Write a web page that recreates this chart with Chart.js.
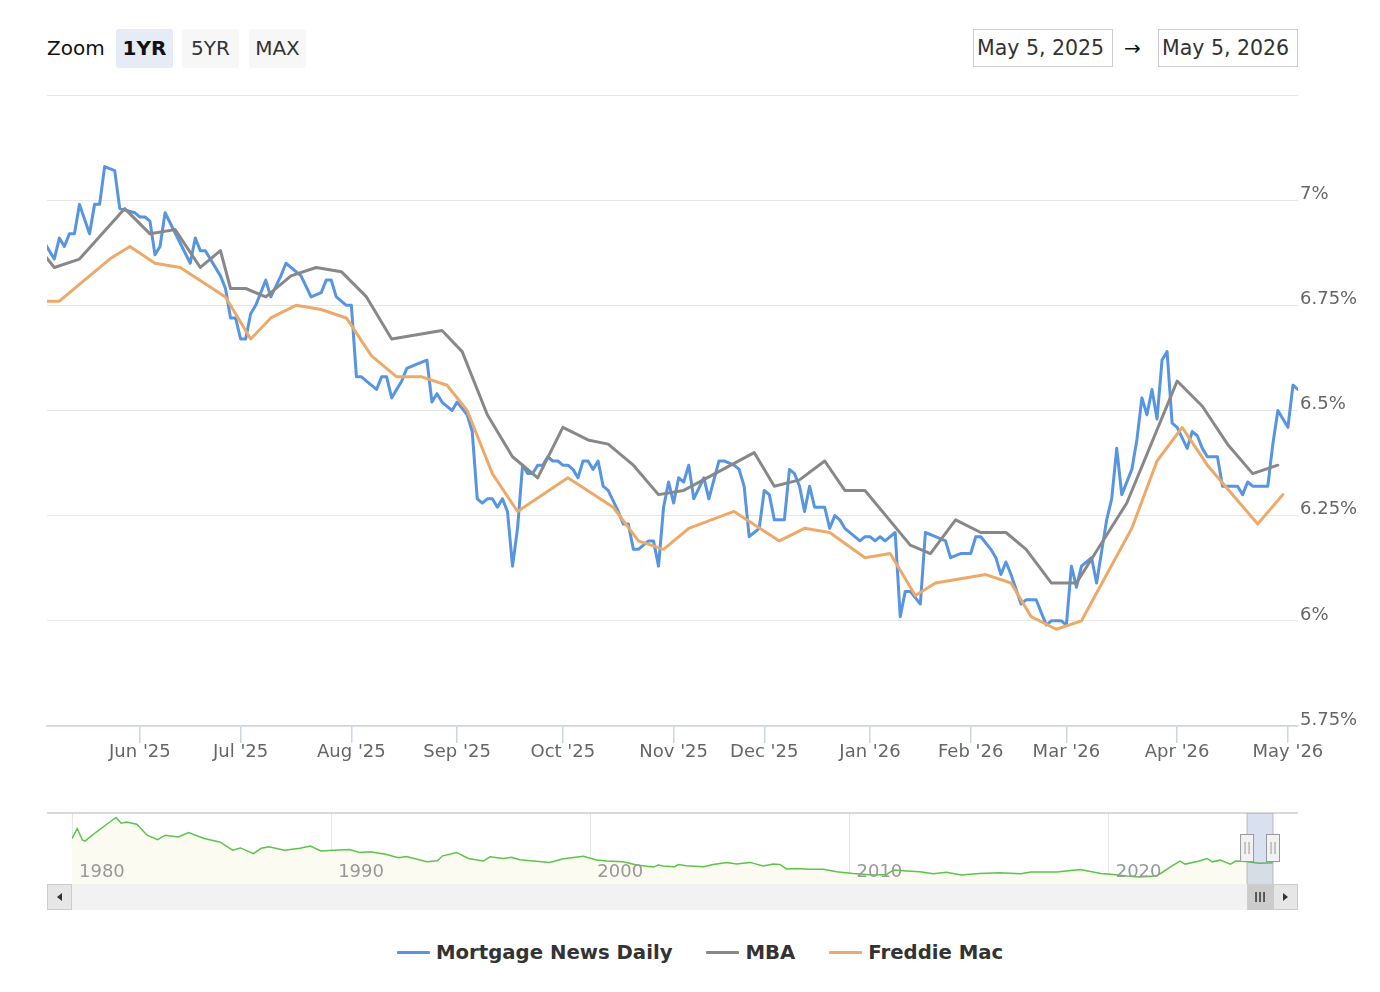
<!DOCTYPE html>
<html>
<head>
<meta charset="utf-8">
<title>Mortgage Rates</title>
<script src="https://cdn.jsdelivr.net/npm/chart.js@4.4.1/dist/chart.umd.min.js"></script>
<style>
  body { margin: 0; background: #fff; font-family: "DejaVu Sans", sans-serif; }
  #page { position: relative; width: 1380px; height: 992px; overflow: hidden; }
  .zoom-label { position: absolute; left: 47px; top: 29px; height: 39px; line-height: 39px; font-size: 20px; color: #111; }
  .zoom-btn { position: absolute; top: 29px; width: 57px; height: 39px; line-height: 39px; text-align: center;
              font-size: 20px; color: #333; background: #f7f7f7; border-radius: 3px; }
  .zoom-btn.active { background: #e6ebf5; font-weight: bold; color: #111; }
  .date-box { position: absolute; top: 29px; width: 135px; height: 36px; border: 1.5px solid #ccc;
              font-size: 20.5px; line-height: 36px; color: #333; padding-left: 3px; }
  .range-arrow { position: absolute; left: 1124px; top: 29px; height: 39px; line-height: 39px; font-size: 20px; color: #111; }
  #mainChart { position: absolute; left: 0; top: 0; }
  #navChart { position: absolute; left: 47px; top: 806px; }
  #legend { position: absolute; left: 397px; top: 936px; height: 32px; display: flex; align-items: center;
            gap: 34px; font-weight: bold; font-size: 19.7px; color: #333; }
  .legend-item { display: flex; align-items: center; }
  .legend-line { display: inline-block; width: 33px; height: 3px; margin-right: 6px; border-radius: 1px; }
</style>
</head>
<body>
<div id="page">
  <div class="zoom-label">Zoom</div>
  <div class="zoom-btn active" style="left:116px">1YR</div>
  <div class="zoom-btn" style="left:182px">5YR</div>
  <div class="zoom-btn" style="left:249px">MAX</div>
  <div class="date-box" id="fromBox" style="left:973px"></div>
  <div class="range-arrow">→</div>
  <div class="date-box" id="toBox" style="left:1158px"></div>
  <canvas id="mainChart" width="1380" height="790"></canvas>
  <canvas id="navChart" width="1251" height="106"></canvas>
  <div id="legend"></div>
</div>

<script>
// ------------------------
// DATA
// ------------------------
const selectedRange = ["2025-05-05", "2026-05-05"];

// days with no quote in the series (they get no slot on the ordinal axis)
const marketHolidays = [
  "2025-05-26", "2025-06-19", "2025-07-04", "2025-09-01", "2025-10-13", "2025-11-11",
  "2025-11-27", "2025-12-24", "2025-12-25", "2026-01-01", "2026-01-19", "2026-02-16"
];

const monthNames = ["Jan", "Feb", "Mar", "Apr", "May", "Jun", "Jul", "Aug", "Sep", "Oct", "Nov", "Dec"];
const rateTicks = [5.75, 6, 6.25, 6.5, 6.75, 7, 7.25];
const navDecades = [1980, 1990, 2000, 2010, 2020];

const mortgageNewsDaily = [
  ["2025-05-05", 6.90], ["2025-05-06", 6.88], ["2025-05-07", 6.86], ["2025-05-08", 6.91], ["2025-05-09", 6.89],
  ["2025-05-12", 6.92], ["2025-05-13", 6.92], ["2025-05-14", 6.99], ["2025-05-16", 6.92], ["2025-05-19", 6.99],
  ["2025-05-20", 6.99], ["2025-05-21", 7.08], ["2025-05-23", 7.07], ["2025-05-27", 6.98], ["2025-05-30", 6.97],
  ["2025-06-02", 6.96], ["2025-06-03", 6.96], ["2025-06-04", 6.95], ["2025-06-05", 6.87], ["2025-06-06", 6.89],
  ["2025-06-09", 6.97], ["2025-06-16", 6.85], ["2025-06-17", 6.91], ["2025-06-18", 6.88], ["2025-06-20", 6.88],
  ["2025-06-25", 6.82], ["2025-06-26", 6.79], ["2025-06-27", 6.72], ["2025-06-30", 6.72], ["2025-07-01", 6.67],
  ["2025-07-02", 6.67], ["2025-07-03", 6.73], ["2025-07-07", 6.75], ["2025-07-09", 6.81], ["2025-07-10", 6.77],
  ["2025-07-14", 6.82], ["2025-07-15", 6.85], ["2025-07-16", 6.84], ["2025-07-18", 6.82], ["2025-07-22", 6.77],
  ["2025-07-24", 6.78], ["2025-07-25", 6.81], ["2025-07-28", 6.81], ["2025-07-29", 6.77], ["2025-07-31", 6.75],
  ["2025-08-01", 6.75], ["2025-08-04", 6.58], ["2025-08-05", 6.58], ["2025-08-06", 6.57], ["2025-08-08", 6.55],
  ["2025-08-11", 6.58], ["2025-08-12", 6.58], ["2025-08-13", 6.53], ["2025-08-15", 6.57], ["2025-08-18", 6.60],
  ["2025-08-20", 6.61], ["2025-08-22", 6.62], ["2025-08-25", 6.52], ["2025-08-26", 6.54], ["2025-08-27", 6.52],
  ["2025-08-28", 6.51], ["2025-08-29", 6.50], ["2025-09-02", 6.52], ["2025-09-04", 6.49], ["2025-09-05", 6.45],
  ["2025-09-08", 6.29], ["2025-09-09", 6.28], ["2025-09-10", 6.29], ["2025-09-11", 6.29], ["2025-09-12", 6.27],
  ["2025-09-15", 6.29], ["2025-09-16", 6.26], ["2025-09-17", 6.13], ["2025-09-18", 6.22], ["2025-09-19", 6.37],
  ["2025-09-22", 6.35], ["2025-09-23", 6.35], ["2025-09-24", 6.37], ["2025-09-25", 6.37], ["2025-09-26", 6.39],
  ["2025-09-29", 6.38], ["2025-09-30", 6.38], ["2025-10-01", 6.37], ["2025-10-02", 6.37], ["2025-10-03", 6.36],
  ["2025-10-06", 6.34], ["2025-10-07", 6.38], ["2025-10-08", 6.38], ["2025-10-09", 6.36], ["2025-10-10", 6.38],
  ["2025-10-14", 6.32], ["2025-10-15", 6.31], ["2025-10-17", 6.26], ["2025-10-20", 6.23], ["2025-10-21", 6.23],
  ["2025-10-22", 6.17], ["2025-10-23", 6.17], ["2025-10-24", 6.18], ["2025-10-27", 6.19], ["2025-10-28", 6.19],
  ["2025-10-29", 6.13], ["2025-10-30", 6.27], ["2025-10-31", 6.33], ["2025-11-03", 6.28], ["2025-11-04", 6.34],
  ["2025-11-05", 6.33], ["2025-11-06", 6.37], ["2025-11-07", 6.29], ["2025-11-12", 6.34], ["2025-11-13", 6.29],
  ["2025-11-17", 6.38], ["2025-11-18", 6.38], ["2025-11-20", 6.37], ["2025-11-21", 6.36], ["2025-11-24", 6.32],
  ["2025-11-25", 6.20], ["2025-11-26", 6.21], ["2025-11-28", 6.22], ["2025-12-01", 6.31], ["2025-12-02", 6.30],
  ["2025-12-03", 6.24], ["2025-12-05", 6.24], ["2025-12-08", 6.36], ["2025-12-09", 6.35], ["2025-12-10", 6.32],
  ["2025-12-11", 6.26], ["2025-12-12", 6.32], ["2025-12-15", 6.27], ["2025-12-17", 6.27], ["2025-12-18", 6.22],
  ["2025-12-19", 6.25], ["2025-12-22", 6.24], ["2025-12-23", 6.22], ["2025-12-30", 6.19], ["2025-12-31", 6.20],
  ["2026-01-02", 6.20], ["2026-01-05", 6.19], ["2026-01-06", 6.20], ["2026-01-07", 6.19], ["2026-01-09", 6.21],
  ["2026-01-12", 6.01], ["2026-01-13", 6.07], ["2026-01-14", 6.07], ["2026-01-16", 6.04], ["2026-01-20", 6.21],
  ["2026-01-22", 6.20], ["2026-01-26", 6.19], ["2026-01-27", 6.15], ["2026-01-29", 6.16], ["2026-02-02", 6.16],
  ["2026-02-03", 6.20], ["2026-02-04", 6.20], ["2026-02-06", 6.17], ["2026-02-09", 6.15], ["2026-02-10", 6.11],
  ["2026-02-11", 6.14], ["2026-02-12", 6.11], ["2026-02-17", 6.04], ["2026-02-18", 6.05], ["2026-02-20", 6.05],
  ["2026-02-23", 6.02], ["2026-02-24", 5.99], ["2026-02-25", 6.00], ["2026-02-26", 6.00], ["2026-02-27", 6.00],
  ["2026-03-02", 5.99], ["2026-03-03", 6.13], ["2026-03-04", 6.08], ["2026-03-05", 6.13], ["2026-03-09", 6.15],
  ["2026-03-10", 6.09], ["2026-03-12", 6.24], ["2026-03-13", 6.29], ["2026-03-16", 6.41], ["2026-03-17", 6.30],
  ["2026-03-19", 6.36], ["2026-03-20", 6.43], ["2026-03-23", 6.53], ["2026-03-24", 6.49], ["2026-03-25", 6.55],
  ["2026-03-26", 6.48], ["2026-03-27", 6.62], ["2026-03-30", 6.64], ["2026-03-31", 6.47], ["2026-04-01", 6.46],
  ["2026-04-03", 6.41], ["2026-04-06", 6.45], ["2026-04-07", 6.44], ["2026-04-08", 6.41], ["2026-04-09", 6.39],
  ["2026-04-10", 6.39], ["2026-04-13", 6.39], ["2026-04-14", 6.32], ["2026-04-15", 6.32], ["2026-04-16", 6.32],
  ["2026-04-17", 6.32], ["2026-04-20", 6.30], ["2026-04-21", 6.33], ["2026-04-22", 6.32], ["2026-04-27", 6.32],
  ["2026-04-28", 6.42], ["2026-04-29", 6.50], ["2026-05-01", 6.46], ["2026-05-04", 6.56], ["2026-05-05", 6.55]
];

const mbaRates = [
  ["2025-05-05", 6.87], ["2025-05-07", 6.84], ["2025-05-14", 6.86], ["2025-05-28", 6.98], ["2025-06-04", 6.92],
  ["2025-06-11", 6.93], ["2025-06-18", 6.84], ["2025-06-25", 6.88], ["2025-06-27", 6.79], ["2025-07-02", 6.79],
  ["2025-07-09", 6.77], ["2025-07-16", 6.82], ["2025-07-23", 6.84], ["2025-07-30", 6.83], ["2025-08-06", 6.77],
  ["2025-08-13", 6.67], ["2025-08-27", 6.69], ["2025-09-03", 6.64], ["2025-09-10", 6.49], ["2025-09-17", 6.39],
  ["2025-09-24", 6.34], ["2025-10-01", 6.46], ["2025-10-08", 6.43], ["2025-10-15", 6.42], ["2025-10-22", 6.37],
  ["2025-10-29", 6.30], ["2025-11-05", 6.31], ["2025-11-26", 6.40], ["2025-12-03", 6.32], ["2025-12-10", 6.335],
  ["2025-12-17", 6.38], ["2025-12-23", 6.31], ["2025-12-31", 6.31], ["2026-01-14", 6.18], ["2026-01-21", 6.16],
  ["2026-01-28", 6.24], ["2026-02-04", 6.21], ["2026-02-11", 6.21], ["2026-02-18", 6.17], ["2026-02-25", 6.09],
  ["2026-03-04", 6.09], ["2026-03-18", 6.28], ["2026-04-01", 6.57], ["2026-04-08", 6.51], ["2026-04-15", 6.42],
  ["2026-04-22", 6.35], ["2026-04-29", 6.37]
];

const freddieMac = [
  ["2025-05-05", 6.76], ["2025-05-08", 6.76], ["2025-05-22", 6.86], ["2025-05-29", 6.89], ["2025-06-05", 6.85],
  ["2025-06-12", 6.84], ["2025-06-26", 6.77], ["2025-07-03", 6.67], ["2025-07-10", 6.72], ["2025-07-17", 6.75],
  ["2025-07-24", 6.74], ["2025-07-31", 6.72], ["2025-08-07", 6.63], ["2025-08-14", 6.58], ["2025-08-21", 6.58],
  ["2025-08-28", 6.56], ["2025-09-04", 6.50], ["2025-09-11", 6.35], ["2025-09-18", 6.26], ["2025-10-02", 6.34],
  ["2025-10-16", 6.27], ["2025-10-23", 6.19], ["2025-10-30", 6.17], ["2025-11-06", 6.22], ["2025-11-20", 6.26],
  ["2025-12-04", 6.19], ["2025-12-11", 6.22], ["2025-12-18", 6.21], ["2025-12-31", 6.15], ["2026-01-08", 6.16],
  ["2026-01-15", 6.06], ["2026-01-22", 6.09], ["2026-02-05", 6.11], ["2026-02-12", 6.09], ["2026-02-19", 6.01],
  ["2026-02-26", 5.98], ["2026-03-05", 6.00], ["2026-03-12", 6.11], ["2026-03-19", 6.22], ["2026-03-26", 6.38],
  ["2026-04-02", 6.46], ["2026-04-09", 6.37], ["2026-04-23", 6.23], ["2026-04-30", 6.30]
];

// long history shown in the navigator strip (decimal year, rate)
const navYears = [
  1980.0, 1980.2, 1980.4, 1980.5, 1980.95, 1981.3, 1981.7, 1981.9, 1982.1, 1982.5, 1982.9, 1983.3, 1983.6,
  1984.1, 1984.5, 1985.1, 1985.7, 1986.2, 1986.5, 1987.0, 1987.3, 1987.6, 1988.2, 1988.8, 1989.2, 1989.6,
  1990.1, 1990.7, 1991.1, 1991.5, 1992.1, 1992.6, 1992.9, 1993.7, 1994.1, 1994.3, 1994.84, 1995.29, 1995.87,
  1996.13, 1996.64, 1996.96, 1997.28, 1998.44, 1998.95, 1999.73, 2000.24, 2000.63, 2001.27, 2001.79, 2002.43,
  2002.62, 2002.81, 2003.26, 2003.39, 2003.71, 2004.36, 2004.74, 2005.26, 2005.64, 2006.16, 2006.67, 2007.06,
  2007.31, 2007.57, 2007.96, 2008.41, 2008.99, 2009.5, 2010.14, 2010.91, 2011.43, 2011.69, 2012.2, 2012.72,
  2013.23, 2013.74, 2014.32, 2015.0, 2015.8, 2016.6, 2017.0, 2018.0, 2018.9, 2019.7, 2020.2, 2020.7, 2021.2,
  2021.8, 2022.0, 2022.4, 2022.75, 2022.95, 2023.5, 2023.8, 2024.0, 2024.3, 2024.7, 2024.9, 2025.3, 2025.8, 2026.34
];
const navRates = [
  12.9, 15.6, 12.5, 12.2, 14.7, 16.5, 18.5, 17.0, 17.3, 16.7, 13.8, 12.6, 13.8,
  13.3, 14.5, 12.9, 12.0, 9.8, 10.4, 8.9, 10.3, 10.7, 9.8, 10.3, 10.9, 9.6,
  9.8, 10.0, 9.2, 9.4, 8.7, 7.8, 8.1, 6.7, 7.0, 8.3, 9.2, 7.6, 6.9,
  8.05, 7.6, 7.9, 7.25, 6.55, 7.5, 8.2, 7.2, 6.9, 6.7, 5.85, 5.3,
  5.85, 5.6, 5.4, 6.0, 5.65, 5.4, 6.0, 6.55, 6.1, 6.55, 5.6, 6.1,
  6.0, 4.8, 4.95, 4.7, 4.7, 4.05, 3.6, 3.2, 3.35, 4.5, 4.25, 4.05,
  3.5, 3.9, 3.2, 3.6, 3.8, 3.5, 4.0, 4.0, 4.65, 3.6, 3.35, 2.9, 2.65,
  2.9, 3.6, 5.4, 6.9, 6.1, 6.9, 7.6, 6.7, 7.15, 6.1, 6.9, 6.8, 6.3, 6.45
];

document.addEventListener("DOMContentLoaded", () => {

  Chart.defaults.font.family = '"DejaVu Sans", sans-serif';

  // ------------------------
  // TRADING DAY AXIS (ordinal, weekends and holidays skipped)
  // ------------------------
  function isoDate(d) {
    return d.toISOString().slice(0, 10);
  }

  function tradingDays(fromIso, toIso) {
    const days = [];
    const d = new Date(fromIso + "T00:00:00Z");
    const end = new Date(toIso + "T00:00:00Z");
    while (d <= end) {
      const iso = isoDate(d);
      const wd = d.getUTCDay();
      if (wd !== 0 && wd !== 6 && !marketHolidays.includes(iso)) days.push(iso);
      d.setUTCDate(d.getUTCDate() + 1);
    }
    return days;
  }

  const days = tradingDays(selectedRange[0], selectedRange[1]);
  const dayIndex = {};
  days.forEach((iso, i) => dayIndex[iso] = i);

  const monthTicks = [];
  days.forEach((iso, i) => {
    if (i === 0 || iso.slice(5, 7) === days[i - 1].slice(5, 7)) return;
    const m = Number(iso.slice(5, 7)) - 1;
    monthTicks.push({ idx: i, label: `${monthNames[m]} '${iso.slice(2, 4)}` });
  });
  const labelByIdx = {};
  monthTicks.forEach(t => labelByIdx[t.idx] = t.label);

  function toPoints(series) {
    return series.map(([date, rate]) => {
      if (dayIndex[date] === undefined) console.warn("not a trading day:", date);
      return { x: dayIndex[date], y: rate };
    });
  }

  function formatDate(iso) {
    const m = Number(iso.slice(5, 7)) - 1;
    return `${monthNames[m]} ${Number(iso.slice(8, 10))}, ${iso.slice(0, 4)}`;
  }

  function yearFraction(iso) {
    const d = new Date(iso + "T00:00:00Z");
    const y = d.getUTCFullYear();
    const start = Date.UTC(y, 0, 1);
    return y + (d - start) / (Date.UTC(y + 1, 0, 1) - start);
  }

  document.getElementById("fromBox").textContent = formatDate(selectedRange[0]);
  document.getElementById("toBox").textContent = formatDate(selectedRange[1]);

  // ------------------------
  // MAIN CHART
  // ------------------------
  const lineStyle = { borderWidth: 3, pointRadius: 0, tension: 0, borderJoinStyle: "round", borderCapStyle: "round" };

  const mainChart = new Chart(document.getElementById("mainChart"), {
    type: "line",
    data: {
      datasets: [
        { label: "Mortgage News Daily", data: toPoints(mortgageNewsDaily), borderColor: "#5794e2", order: 2, ...lineStyle },
        { label: "MBA", data: toPoints(mbaRates), borderColor: "#888888", order: 1, ...lineStyle },
        { label: "Freddie Mac", data: toPoints(freddieMac), borderColor: "#ecaa6a", order: 0, ...lineStyle }
      ]
    },
    options: {
      responsive: false,
      animation: false,
      layout: { padding: { left: 47, top: 95, right: 0, bottom: 0 } },
      plugins: { legend: { display: false }, tooltip: { enabled: false } },
      scales: {
        x: {
          type: "linear",
          min: 0.55,              // the first session sits just off the left edge
          max: days.length - 1,
          afterBuildTicks: scale => { scale.ticks = monthTicks.map(t => ({ value: t.idx })); },
          afterFit: scale => { scale.height = 64; },
          ticks: {
            autoSkip: false, maxRotation: 0, padding: -1,
            color: "#666", font: { size: 18 },
            callback: v => labelByIdx[v] || ""
          },
          grid: { drawOnChartArea: false, drawTicks: true, tickLength: 17, color: "#ccd6eb", lineWidth: 1.5 },
          border: { color: "#ccd6eb", width: 1.5 }
        },
        y: {
          position: "right",
          min: rateTicks[0],
          max: rateTicks[rateTicks.length - 1],
          afterBuildTicks: scale => { scale.ticks = rateTicks.map(v => ({ value: v })); },
          afterFit: scale => { scale.width = 82; },
          ticks: {
            padding: 2, labelOffset: -6,
            color: "#666", font: { size: 18 },
            callback: v => v === rateTicks[rateTicks.length - 1] ? "" : `${parseFloat(v.toFixed(2))}%`
          },
          grid: { color: "#e6e6e6", drawTicks: false, lineWidth: 1 },
          border: { display: false }
        }
      }
    }
  });

  // ------------------------
  // LEGEND
  // ------------------------
  const legend = document.getElementById("legend");
  mainChart.data.datasets.forEach(ds => {
    const item = document.createElement("div");
    item.className = "legend-item";
    item.innerHTML = `<span class="legend-line" style="background:${ds.borderColor}"></span><span>${ds.label}</span>`;
    legend.appendChild(item);
  });

  // ------------------------
  // NAVIGATOR + SCROLLBAR
  // ------------------------
  const navigatorDecor = {
    id: "navigatorDecor",
    afterDraw(chart) {
      const { ctx, chartArea: a, scales: { x } } = chart;
      const W = chart.width;
      const left = x.getPixelForValue(yearFraction(selectedRange[0]));
      const right = x.getPixelForValue(yearFraction(selectedRange[1]));
      const line = (x1, y1, x2, y2) => { ctx.beginPath(); ctx.moveTo(x1, y1); ctx.lineTo(x2, y2); ctx.stroke(); };

      ctx.save();

      // decade labels
      ctx.font = '18px "DejaVu Sans"';
      ctx.fillStyle = "#999";
      ctx.textBaseline = "alphabetic";
      x.ticks.forEach(t => ctx.fillText(String(t.value), x.getPixelForValue(t.value) + 7, a.bottom - 7));

      // outline on top
      ctx.strokeStyle = "#cccccc";
      ctx.lineWidth = 1.5;
      line(0, a.top, W, a.top);

      // selected range mask
      ctx.fillStyle = "rgba(102,133,194,0.25)";
      ctx.fillRect(left, a.top, right - left, a.bottom - a.top);
      ctx.strokeStyle = "#b8b8b8";
      ctx.lineWidth = 1;
      line(left, a.top, left, a.bottom);
      line(right, a.top, right, a.bottom);

      // handles
      [left, right].forEach(hx => {
        const hy = a.top + 21;
        ctx.fillStyle = "#f2f2f2";
        ctx.strokeStyle = "#999";
        ctx.lineWidth = 1;
        ctx.fillRect(hx - 7, hy, 14, 28);
        ctx.strokeRect(hx - 7 + 0.5, hy + 0.5, 13, 27);
        line(hx - 2, hy + 8, hx - 2, hy + 20);
        line(hx + 2, hy + 8, hx + 2, hy + 20);
      });

      // scrollbar
      const sy = a.bottom;
      const sh = 26;
      ctx.fillStyle = "#f2f2f2";
      ctx.fillRect(0, sy, W, sh);
      ctx.fillStyle = "#e6e6e6";
      ctx.strokeStyle = "#cccccc";
      ctx.fillRect(0, sy, 25, sh);
      ctx.strokeRect(0.5, sy + 0.5, 24, sh - 1);
      ctx.fillRect(W - 25, sy, 25, sh);
      ctx.strokeRect(W - 24.5, sy + 0.5, 24, sh - 1);
      ctx.fillStyle = "#333";
      ctx.beginPath();
      ctx.moveTo(15, sy + 9); ctx.lineTo(15, sy + 17); ctx.lineTo(10, sy + 13); ctx.closePath(); ctx.fill();
      ctx.beginPath();
      ctx.moveTo(W - 15, sy + 9); ctx.lineTo(W - 15, sy + 17); ctx.lineTo(W - 10, sy + 13); ctx.closePath(); ctx.fill();

      ctx.fillStyle = "#cccccc";
      ctx.fillRect(left, sy, right - left, sh);
      ctx.strokeStyle = "#333";
      ctx.lineWidth = 1.5;
      const cx = (left + right) / 2;
      [-4, 0, 4].forEach(dx => line(cx + dx, sy + 8, cx + dx, sy + 18));

      ctx.restore();
    }
  };

  new Chart(document.getElementById("navChart"), {
    type: "line",
    data: {
      datasets: [{
        data: navYears.map((yr, i) => ({ x: yr, y: navRates[i] })),
        borderColor: "#5cc44b",
        borderWidth: 1.5,
        backgroundColor: "#fbfbf1",
        fill: "start",
        pointRadius: 0,
        tension: 0
      }]
    },
    options: {
      responsive: false,
      animation: false,
      layout: { padding: { left: 25, right: 25, top: 7, bottom: 28 } },
      plugins: { legend: { display: false }, tooltip: { enabled: false } },
      scales: {
        x: {
          type: "linear",
          min: navYears[0],
          max: navYears[navYears.length - 1],
          afterBuildTicks: scale => { scale.ticks = navDecades.map(v => ({ value: v })); },
          afterFit: scale => { scale.height = 0; },
          ticks: { display: false },
          grid: { color: "#e6e6e6", drawTicks: false, lineWidth: 1 },
          border: { display: false }
        },
        y: { display: false, min: 0.8, max: 19.7 }
      }
    },
    plugins: [navigatorDecor]
  });

});
</script>
</body>
</html>
